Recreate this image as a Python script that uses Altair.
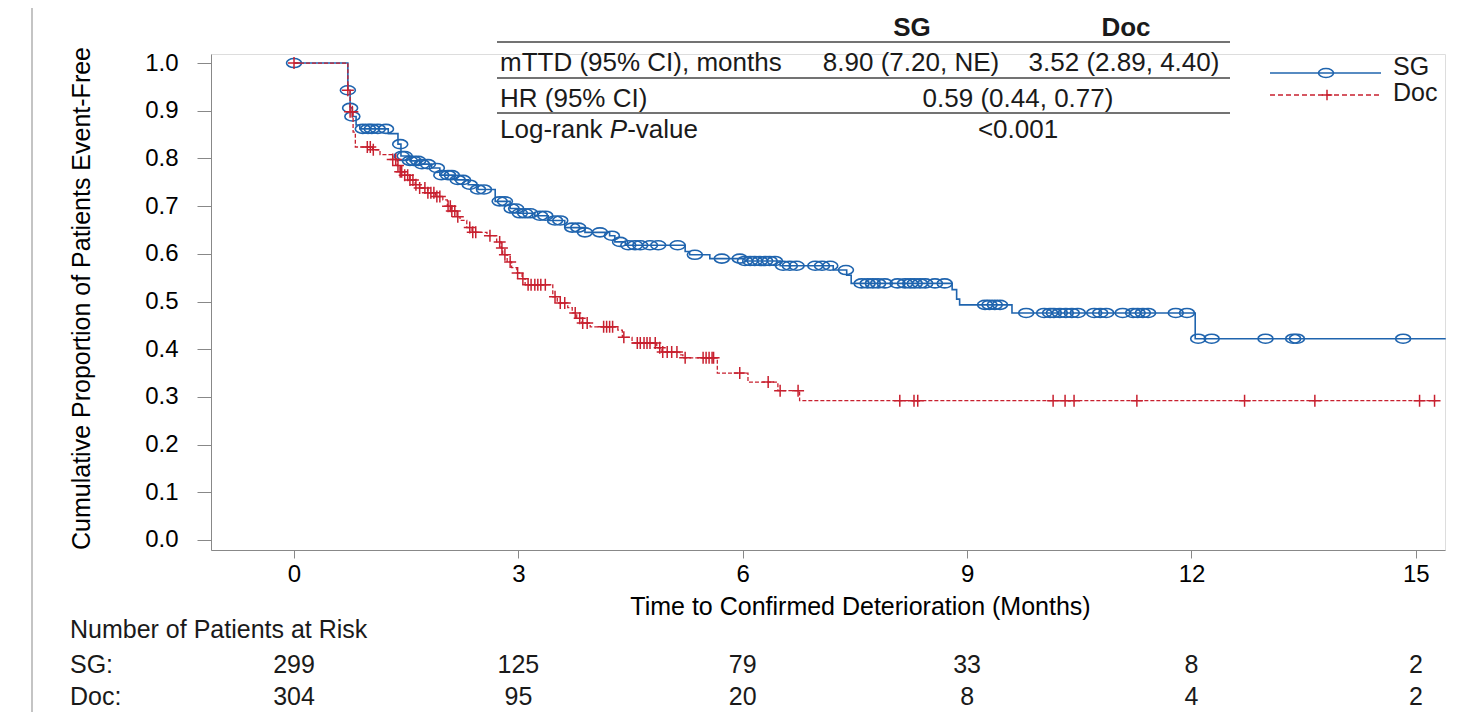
import altair as alt
import numpy as np
import pandas as pd

FONT = "Liberation Sans"
TXT = "#1a1a1a"
SG_COL = "#1f64ae"
DOC_COL = "#c8202f"

# ---- Kaplan-Meier step functions (months, proportion event-free) ----
sg_time = [0, 0.72, 0.75, 0.78, 0.83, 0.88, 1.26, 1.39, 1.43, 1.55, 1.68, 1.84, 1.95, 2.15,
           2.33, 2.46, 2.69, 2.89, 2.99, 3.22, 3.40, 3.62, 3.89, 4.22, 4.29, 4.43, 5.23, 5.29,
           5.56, 6.03, 6.50, 7.21, 7.39, 7.45, 8.80, 8.86, 8.90, 9.60, 12.05, 15.40]
sg_surv = [1.0, 0.943, 0.906, 0.888, 0.870, 0.862, 0.852, 0.830, 0.805, 0.795, 0.788, 0.780,
           0.765, 0.755, 0.745, 0.735, 0.710, 0.695, 0.685, 0.680, 0.670, 0.655, 0.645, 0.638,
           0.625, 0.618, 0.605, 0.598, 0.590, 0.585, 0.575, 0.566, 0.555, 0.538, 0.525, 0.505,
           0.493, 0.476, 0.422, 0.422]

doc_time = [0, 0.72, 0.75, 0.79, 0.82, 1.05, 1.15, 1.32, 1.38, 1.42, 1.48, 1.55, 1.62, 1.68,
            1.79, 1.89, 1.99, 2.05, 2.11, 2.18, 2.22, 2.31, 2.38, 2.58, 2.71, 2.77, 2.79, 2.85,
            2.91, 2.98, 3.05, 3.09, 3.46, 3.52, 3.66, 3.72, 3.78, 3.85, 3.96, 4.33, 4.39, 4.52,
            4.85, 4.92, 5.16, 5.20, 5.66, 6.07, 6.47, 6.76, 15.30]
doc_surv = [1.0, 0.943, 0.898, 0.855, 0.824, 0.818, 0.808, 0.798, 0.785, 0.772, 0.765, 0.755,
            0.745, 0.738, 0.728, 0.720, 0.713, 0.700, 0.690, 0.678, 0.670, 0.655, 0.645, 0.638,
            0.625, 0.612, 0.598, 0.583, 0.571, 0.560, 0.548, 0.535, 0.510, 0.497, 0.487, 0.476,
            0.465, 0.455, 0.447, 0.440, 0.425, 0.413, 0.403, 0.394, 0.388, 0.382, 0.350, 0.331,
            0.313, 0.292, 0.292]

# ---- censoring times (months) ----
sg_cens = [0, 0.72, 0.75, 0.78, 0.92, 0.99, 1.04, 1.12, 1.23, 1.42, 1.44, 1.48, 1.55, 1.60,
           1.66, 1.71, 1.79, 1.91, 1.97, 2.06, 2.11, 2.19, 2.26, 2.35, 2.46, 2.54, 2.75, 2.82,
           2.91, 2.97, 3.02, 3.09, 3.16, 3.29, 3.36, 3.49, 3.56, 3.72, 3.80, 3.89, 4.09, 4.25,
           4.36, 4.47, 4.56, 4.63, 4.76, 4.87, 5.13, 5.36, 5.72, 5.96, 6.03, 6.10, 6.16, 6.23,
           6.30, 6.36, 6.43, 6.54, 6.63, 6.72, 6.97, 7.06, 7.17, 7.38, 7.59, 7.67, 7.74, 7.81,
           7.90, 8.07, 8.17, 8.24, 8.30, 8.37, 8.44, 8.57, 8.70, 9.24, 9.30, 9.37, 9.44, 9.79,
           10.03, 10.11, 10.16, 10.24, 10.32, 10.40, 10.48, 10.70, 10.78, 10.86, 11.08, 11.22,
           11.28, 11.35, 11.42, 11.79, 11.94, 12.09, 12.27, 12.99, 13.36, 13.41, 14.83]
doc_cens = [0, 0.72, 0.75, 0.78, 0.98, 1.02, 1.06, 1.32, 1.36, 1.39, 1.42, 1.44, 1.48, 1.52,
            1.55, 1.59, 1.63, 1.68, 1.75, 1.79, 1.83, 1.87, 1.91, 1.95, 2.06, 2.09, 2.11, 2.15,
            2.19, 2.35, 2.39, 2.43, 2.62, 2.75, 2.78, 2.82, 2.89, 2.99, 3.06, 3.13, 3.17, 3.22,
            3.26, 3.30, 3.36, 3.49, 3.56, 3.62, 3.76, 3.82, 3.86, 3.92, 4.14, 4.18, 4.22, 4.26,
            4.41, 4.59, 4.63, 4.68, 4.72, 4.76, 4.83, 4.89, 4.93, 4.99, 5.05, 5.12, 5.23, 5.47,
            5.51, 5.55, 5.59, 5.61, 5.96, 6.34, 6.50, 6.74, 8.10, 8.29, 8.34, 10.15, 10.31,
            10.43, 11.27, 12.71, 13.65, 15.05, 15.25]

# ---- number at risk ----
risk_times = [0, 3, 6, 9, 12, 15]
risk_sg = [299, 125, 79, 33, 8, 2]
risk_doc = [304, 95, 20, 8, 4, 2]

# ---- summary table ----
tab_header = ["SG", "Doc"]
mttd = ["8.90 (7.20, NE)", "3.52 (2.89, 4.40)"]
hr_text = "0.59 (0.44, 0.77)"
p_text = "<0.001"


def censor_frame(ct, times, surv):
    idx = np.searchsorted(np.array(times), np.array(ct), side="right") - 1
    return pd.DataFrame({"t": ct, "s": np.array(surv)[idx]})


sg_df = pd.DataFrame({"t": sg_time, "s": sg_surv})
doc_df = pd.DataFrame({"t": doc_time, "s": doc_surv})
sg_c = censor_frame(sg_cens, sg_time, sg_surv)
doc_c = censor_frame(doc_cens, doc_time, doc_surv)

ELLIPSE = ("M1,0 C1,0.331 0.552,0.6 0,0.6 C-0.552,0.6 -1,0.331 -1,0 "
           "C-1,-0.331 -0.552,-0.6 0,-0.6 C0.552,-0.6 1,-0.331 1,0 Z")
PLUS = "M-1,0 L1,0 M0,-1 L0,1"

xs = alt.Scale(domain=[-1.11, 15.39], nice=False, zero=False)
ys = alt.Scale(domain=[-0.021, 1.019], nice=False, zero=False)

X = alt.X("t:Q", scale=xs, axis=alt.Axis(
    values=risk_times, format="d", title="Time to Confirmed Deterioration (Months)",
    tickSize=8, labelPadding=4, titlePadding=8, grid=False,
    labelFontSize=24, titleFontSize=25, titleFontWeight="normal",
    titleX=649, titleAlign="center"))
Y = alt.Y("s:Q", scale=ys, axis=alt.Axis(
    values=[0.0, 0.1, 0.2, 0.3, 0.4, 0.5, 0.6, 0.7, 0.8, 0.9, 1.0], format=".1f",
    title="Cumulative Proportion of Patients Event-Free",
    tickSize=14, labelPadding=19, grid=False, labelFontSize=24, titleFontSize=25,
    titleFontWeight="normal",
    titleX=-122, titleY=244, titleBaseline="alphabetic", titleAlign="center"))

sg_line = alt.Chart(sg_df).mark_line(interpolate="step-after", color=SG_COL, strokeWidth=1.6).encode(x=X, y=Y)
sg_pts = alt.Chart(sg_c).mark_point(shape=ELLIPSE, size=225, filled=False, color=SG_COL,
                                     strokeWidth=1.6, opacity=1).encode(x="t:Q", y="s:Q")
doc_line = alt.Chart(doc_df).mark_line(interpolate="step-after", color=DOC_COL, strokeWidth=1.3,
                                       strokeDash=[4, 2]).encode(x="t:Q", y="s:Q")
doc_pts = alt.Chart(doc_c).mark_point(shape=PLUS, size=144, filled=False, color=DOC_COL,
                                       strokeWidth=1.5, opacity=1).encode(x="t:Q", y="s:Q")

ONE = alt.Data(values=[{}])


def txt(s, x, y, size=25, align="left", weight="normal", style="normal"):
    return alt.Chart(ONE).mark_text(text=s, align=align, baseline="middle", fontSize=size,
                                    fontWeight=weight, fontStyle=style, font=FONT,
                                    color=TXT).encode(x=alt.value(x), y=alt.value(y))


def hrule(x1, x2, y, color="#444", width=1.5, dash=None):
    kw = dict(color=color, strokeWidth=width)
    if dash:
        kw["strokeDash"] = dash
    return alt.Chart(ONE).mark_rule(**kw).encode(x=alt.value(x1), x2=alt.value(x2), y=alt.value(y))


TS = 26
# page frame line at far left (as in the reference screenshot)
frame = alt.Chart(ONE).mark_rule(color="#c4c4c4", strokeWidth=2).encode(
    x=alt.value(-179), y=alt.value(-46), y2=alt.value(660))

layers = [frame, sg_line, sg_pts, doc_line, doc_pts]

# summary table
layers += [
    txt(tab_header[0], 701, -26, TS, "center", "bold"),
    txt(tab_header[1], 915, -26, TS, "center", "bold"),
    hrule(286, 1019, -12),
    txt("mTTD (95% CI), months", 289, 9, TS),
    txt(mttd[0], 700, 9, TS, "center"),
    txt(mttd[1], 913, 9, TS, "center"),
    hrule(286, 1019, 24),
    txt("HR (95% CI)", 289, 45, TS),
    txt(hr_text, 807, 45, TS, "center"),
    hrule(286, 1019, 59),
    txt("Log-rank ", 289, 76, TS),
    txt("P", 289 + 4.224 * TS, 76, TS, style="italic"),
    txt("-value", 289 + 4.224 * TS + 0.667 * TS, 76, TS),
    txt(p_text, 807, 76, TS, "center"),
]

# legend
layers += [
    hrule(1059, 1170, 19, color=SG_COL, width=1.6),
    alt.Chart(ONE).mark_point(shape=ELLIPSE, size=225, filled=False, color=SG_COL, strokeWidth=1.6,
                              opacity=1).encode(x=alt.value(1115), y=alt.value(19)),
    txt("SG", 1182, 13, 25),
    hrule(1059, 1170, 41, color=DOC_COL, width=1.3, dash=[5, 3]),
    alt.Chart(ONE).mark_point(shape=PLUS, size=110, filled=False, color=DOC_COL, strokeWidth=1.5,
                              opacity=1).encode(x=alt.value(1116), y=alt.value(41)),
    txt("Doc", 1182, 39, 25),
]

# number at risk
risk_df = pd.DataFrame({"t": risk_times, "sg": [str(v) for v in risk_sg],
                        "doc": [str(v) for v in risk_doc]})
layers += [
    txt("Number of Patients at Risk", -141, 576, 25),
    txt("SG:", -141, 611, 25),
    txt("Doc:", -141, 643, 25),
    alt.Chart(risk_df).mark_text(fontSize=25, font=FONT, color=TXT, baseline="middle").encode(
        x="t:Q", y=alt.value(611), text="sg:N"),
    alt.Chart(risk_df).mark_text(fontSize=25, font=FONT, color=TXT, baseline="middle").encode(
        x="t:Q", y=alt.value(643), text="doc:N"),
]

chart = alt.layer(*layers).properties(
    width=1234, height=496,
    autosize=alt.AutoSizeParams(type="none"),
    padding={"left": 203, "top": 46, "right": 7, "bottom": 162},
).configure_view(strokeWidth=0).configure_axis(
    domainColor="#7a7a7a", tickColor="#7a7a7a", domainWidth=1.5, tickWidth=1.5,
    labelColor=TXT, titleColor=TXT, labelFont=FONT, titleFont=FONT, titleFontWeight="normal",
).configure(background="white")

chart.save("out.html", embed_options={"renderer": "svg", "actions": False})
